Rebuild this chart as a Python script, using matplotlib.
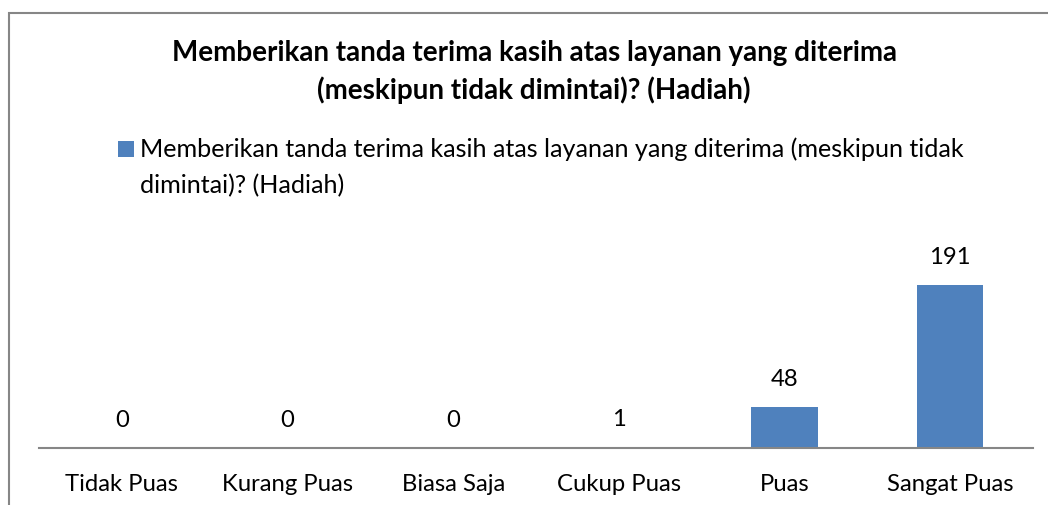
import matplotlib
matplotlib.use("Agg")
import matplotlib.pyplot as plt
from matplotlib.patches import Rectangle

# chart data
categories = ["Tidak Puas", "Kurang Puas", "Biasa Saja", "Cukup Puas", "Puas", "Sangat Puas"]
counts = [0, 0, 0, 1, 48, 191]
series_name = "Memberikan tanda terima kasih atas layanan yang diterima (meskipun tidak dimintai)? (Hadiah)"
title_lines = ["Memberikan tanda terima kasih atas layanan yang diterima",
               "(meskipun tidak dimintai)? (Hadiah)"]

BAR_COLOR = "#4F81BD"
AXIS_GRAY = "#868686"
FONT = "Lato"
LABEL_SIZE = 17.2

W, H = 1048, 505
fig = plt.figure(figsize=(W / 100, H / 100), dpi=100)
fig.patch.set_facecolor("white")

# outer chart frame (right and bottom edges fall outside the image)
fig.add_artist(Rectangle((9 / W, -0.05), 1.2, (H - 12.5) / H + 0.05,
                         transform=fig.transFigure, facecolor="none",
                         edgecolor=AXIS_GRAY, linewidth=1.5))

ax = fig.add_axes([39 / W, (H - 447.5) / H, 994 / W, 213 / H])
x = range(len(categories))
bars = ax.bar(x, counts, width=0.4, color=BAR_COLOR, edgecolor="none")
ax.set_xlim(-0.5, len(categories) - 0.5)
ax.set_ylim(0, 250)

for rect, v in zip(bars, counts):
    ax.annotate(str(v), (rect.get_x() + rect.get_width() / 2, v),
                xytext=(0, 27), textcoords="offset pixels",
                ha="center", va="center", fontsize=LABEL_SIZE, family=FONT, color="black")

ax.set_xticks(list(x))
ax.set_xticklabels(categories, fontsize=LABEL_SIZE, family=FONT)
ax.tick_params(axis="x", length=0, pad=19)
ax.set_yticks([])
for s in ("top", "right", "left"):
    ax.spines[s].set_visible(False)
ax.spines["bottom"].set_color(AXIS_GRAY)
ax.spines["bottom"].set_linewidth(1.5)
ax.patch.set_alpha(0)

# title
fig.text(534 / W, 1 - 53 / H, title_lines[0], ha="center", va="center",
         fontsize=20, fontweight="bold", family=FONT)
fig.text(534 / W, 1 - 90 / H, title_lines[1], ha="center", va="center",
         fontsize=20, fontweight="bold", family=FONT)

# legend (Excel wraps the long series name)
fig.add_artist(Rectangle((118 / W, 1 - 157 / H), 16 / W, 16 / H,
                         transform=fig.transFigure, facecolor=BAR_COLOR, edgecolor="none"))
words = series_name.split(" ")
fig.text(140 / W, 1 - 149 / H, " ".join(words[:10]), ha="left", va="center",
         fontsize=18.1, family=FONT)
fig.text(140 / W, 1 - 186 / H, " ".join(words[10:]), ha="left", va="center",
         fontsize=18.1, family=FONT)

fig.savefig("out.png", dpi=100, facecolor="white")
